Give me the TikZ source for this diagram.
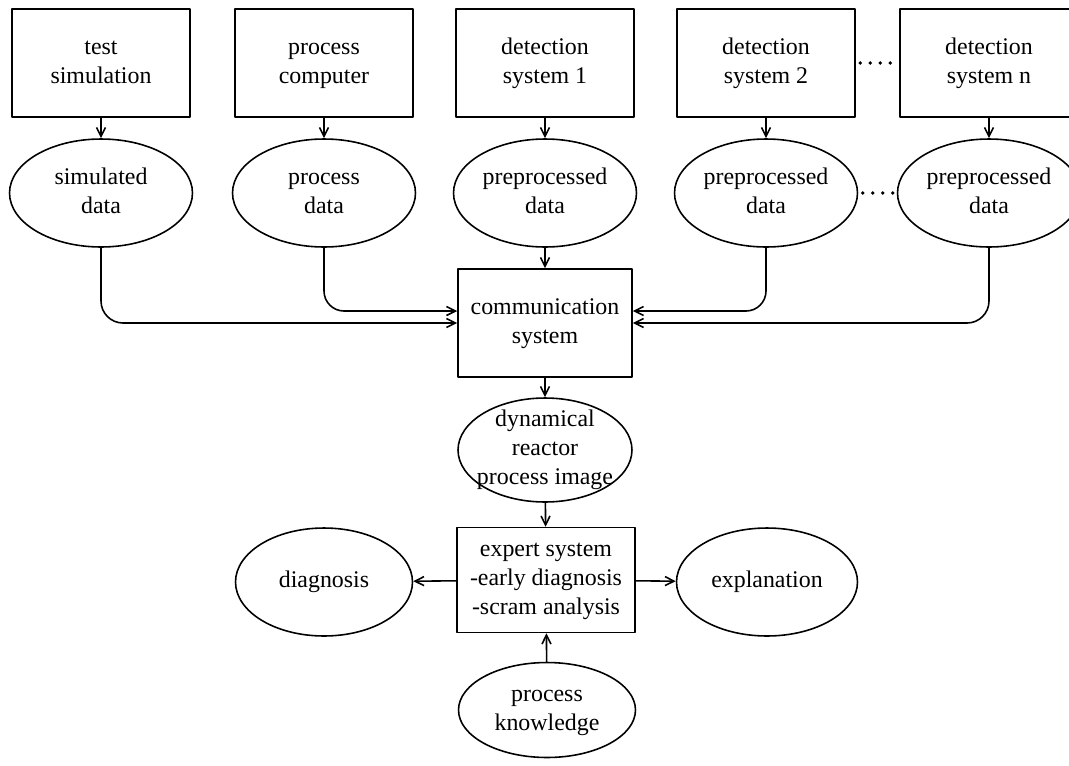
\documentclass[tikz,border=0pt]{standalone}
\usepackage{fontspec}
\setmainfont{Liberation Serif}
\usetikzlibrary{shapes.geometric,arrows.meta}

\begin{document}
\begin{tikzpicture}[x=0.02cm, y=-0.02cm, line cap=round, line join=round, line width=0.9pt,
		font=\fontsize{13.6}{16.5}\selectfont, >={Straight Barb[length=1.8mm,width=1.8mm]}]
			\tikzset{unit/.style={draw, rectangle, align=center, minimum width=3.56cm, minimum height=2.16cm, inner sep=0pt},
				data/.style={draw, ellipse, align=center, minimum width=3.66cm, minimum height=2.16cm, inner sep=0pt},
				more/.style={line width=2.1pt, dash pattern=on 0pt off 0.2cm, shorten <=0.09cm, shorten >=0.05cm}}
			\useasboundingbox (0,0) rectangle (1069,765);
			% sources
			\node[unit] (b1) at (101,63) {\strut test\\simulation\strut};
			\node[unit] (b2) at (324,63) {\strut process\\computer\strut};
			\node[unit] (b3) at (545,63) {\strut detection\\system 1\strut};
			\node[unit] (b4) at (766,63) {\strut detection\\system 2\strut};
			\node[unit] (b5) at (989,63) {\strut detection\\system n\strut};
			\node[data] (e1) at (101,193) {\strut simulated\\data\strut};
			\node[data] (e2) at (324,193) {\strut process\\data\strut};
			\node[data] (e3) at (545,193) {\strut preprocessed\\data\strut};
			\node[data] (e4) at (766,193) {\strut preprocessed\\data\strut};
			\node[data] (e5) at (989,193) {\strut preprocessed\\data\strut};
			\draw[more] (b4.east)--(b5.west);
			\draw[more] (e4.east)--(e5.west);
			\foreach \i in {1,...,5} \draw[->] (b\i)--(e\i);
			% communication
			\node[unit, minimum width=3.48cm] (comm) at (545,323) {\strut communication\\system\strut};
			\draw[->] (e3)--(comm);
			\draw[->, rounded corners=0.44cm] (e1.south) |- (comm.west);
			\draw[->, rounded corners=0.4cm] (e2.south) |- ([yshift=0.24cm]comm.west);
			\draw[->, rounded corners=0.4cm] (e4.south) |- ([yshift=0.24cm]comm.east);
			\draw[->, rounded corners=0.44cm] (e5.south) |- (comm.east);
			% expert system
			\node[data, minimum width=3.48cm, minimum height=2.08cm, inner sep=-4pt] (img) at (545,450) {\strut dynamical\\reactor\\process image\strut};
			\node[unit, minimum height=2.1cm] (exp) at (546,580) {\strut expert system\\-early diagnosis\\-scram analysis\strut};
			\node[data, minimum width=3.54cm] (diag) at (324,582) {diagnosis};
			\node[data, minimum width=3.62cm] (expl) at (767,582) {explanation};
			\node[data, minimum width=3.54cm, minimum height=1.9cm] (know) at (547,710) {\strut process\\knowledge\strut};
			\draw[->] (comm)--(img);
			\draw[->] (img)--(exp);
			\draw[->] (exp)--(diag);
			\draw[->] (exp)--(expl);
			\draw[->] (know)--(exp);
		\end{tikzpicture}
\end{document}
